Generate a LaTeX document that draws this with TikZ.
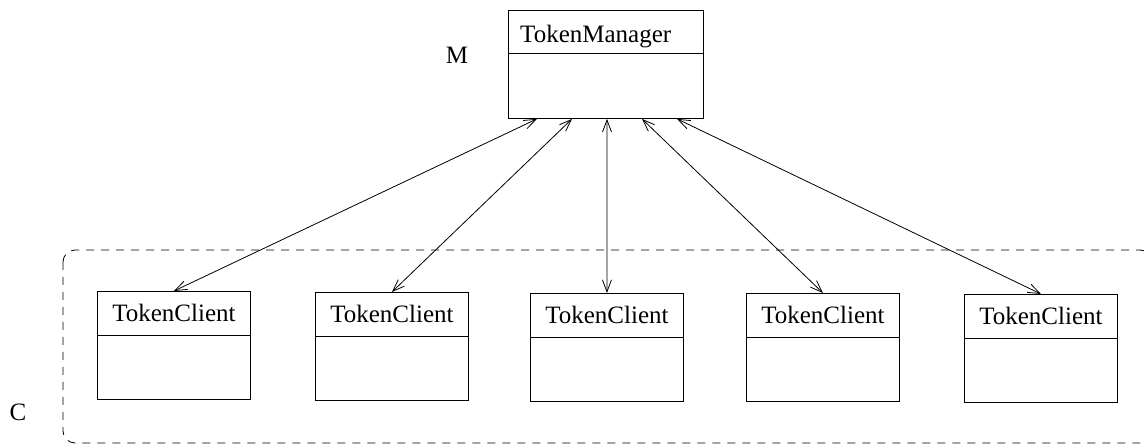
\documentclass[tikz,border=0pt]{standalone}
\usepackage{fontspec}
\setmainfont{Liberation Serif}
\usetikzlibrary{arrows.meta,calc}
\begin{document}
\begin{tikzpicture}[x=1pt,y=-1pt,
  box/.style={draw, line width=0.9pt, inner sep=0pt, anchor=north west},
  cbox/.style={box, minimum width=153pt, minimum height=108pt},
  mbox/.style={box, minimum width=195pt, minimum height=108pt},
  lbl/.style={font=\fontsize{25}{30}\selectfont, inner sep=0pt},
  divider/.style={line width=0.9pt},
  link/.style={line width=0.8pt, {Straight Barb[length=12pt,width=9pt]}-{Straight Barb[length=12pt,width=9pt]}},
  group/.style={dashed, dash pattern=on 8pt off 7pt, line width=0.8pt, rounded corners=12pt}]
\useasboundingbox (0,0) rectangle (1144,446);
% group
\draw[group] (63,250) rectangle (1152,443);
% manager
\node[mbox] (m) at (508,10) {};
\node[lbl, anchor=base west] (mt) at ($(m.north west)+(12,33)$) {TokenManager};
\draw[divider] ($(m.north west)+(0,43)$) -- ($(m.north east)+(0,43)$);
\node[lbl] (ml) at (457,55) {M};
% clients
\foreach \i/\x/\y in {1/97/291, 2/315/292, 3/530/293, 4/746/293, 5/964/294} {
  \node[cbox] (c\i) at (\x,\y) {};
  \node[lbl, anchor=base] (ct\i) at ($(c\i.north)+(0,31)$) {TokenClient};
  \draw[divider] ($(c\i.north west)+(0,44)$) -- ($(c\i.north east)+(0,44)$);
}
\node[lbl] (cl) at (18,412) {C};
% links
\foreach \i/\o in {1/29, 2/64, 3/99, 4/134, 5/169} {
  \draw[link] ($(m.south west)+(\o,0)$) -- (c\i.north);
}
\end{tikzpicture}
\end{document}
